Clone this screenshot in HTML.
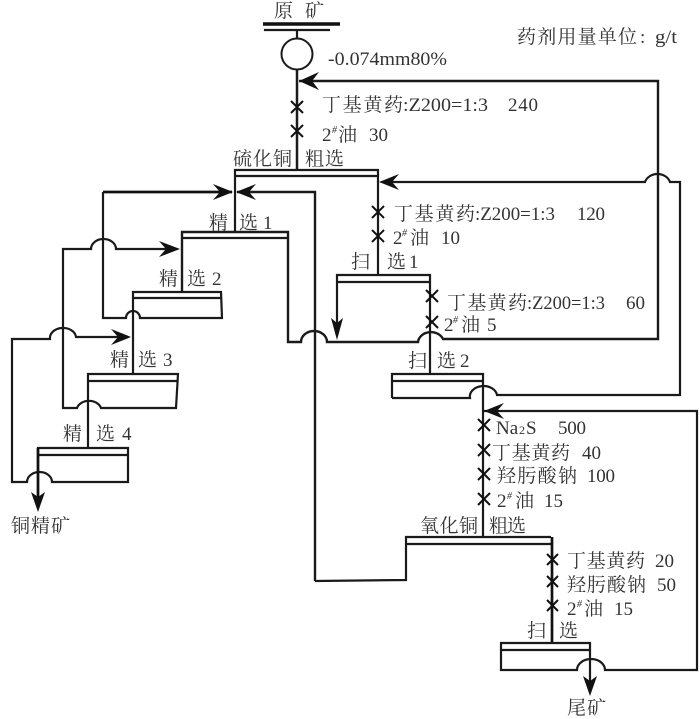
<!DOCTYPE html>
<html><head><meta charset="utf-8"><style>
html,body{margin:0;padding:0;background:#fff}
svg{display:block}
text{font-family:"Liberation Serif","Noto Serif CJK SC",serif;font-size:19px;fill:#333}
.l{fill:none;stroke:#1a1a1a;stroke-width:2.2}
.b{fill:none;stroke:#111;stroke-width:2.700}
.x{fill:none;stroke:#111;stroke-width:2}
.a{fill:#111;stroke:none}
</style></head><body>
<svg width="700" height="719" viewBox="0 0 700 719" xmlns="http://www.w3.org/2000/svg">
<!-- feed -->
<path d="M263 24H340" fill="none" stroke="#111" stroke-width="3.5"/>
<path d="M264 30H330" class="l"/>
<path d="M297 30V39" class="l"/>
<circle cx="297" cy="54" r="15.5" fill="#fff" stroke="#1a1a1a" stroke-width="2"/>
<path d="M297 69V170" class="l" style="stroke-width:2.500"/>
<!-- recycle to head -->
<path d="M299 81H658V339H443A13 11 0 0 0 418 342H327A13 11 0 0 0 301 342H288V232H182V292" class="l" style="stroke-width:2.400"/>
<path d="M299 81L319 72L312 81L319 90Z" class="a"/>
<!-- Cu rougher -->
<path d="M235 232V170H378V276" class="l"/>
<path d="M235 176H378" class="l"/>
<!-- arrows into 235,192 -->
<path d="M315 581V192H237" class="l" style="stroke-width:2.400"/>
<path d="M236 192L256 184L249 192L256 200Z" class="a"/>
<path d="M103 192H232" class="b"/>
<path d="M233 192L213 184L220 192L213 200Z" class="a"/>
<!-- cleaner 1 -->
<path d="M182 238H288" class="l"/>
<!-- cleaner 2 -->
<path d="M133 374V292H221L222 318H140A7 7 0 0 0 126 318H103V192" class="l"/>
<path d="M133 298H221" class="l"/>
<!-- cleaner 3 -->
<path d="M88 448V374H178L176 408H101A12.500 10 0 0 0 77 408H63V249H91A12.500 10 0 0 1 116 249H176" class="l"/>
<path d="M88 381H178" class="l"/>
<path d="M180 249L159 241L166 249L159 257Z" class="a"/>
<!-- cleaner 4 -->
<path d="M38 505V448H128V482H52A12.500 10 0 0 0 27 482H12V339H50A13 10 0 0 1 76 337H128" class="l"/>
<path d="M38 455H128" class="l"/>
<path d="M131 337L111 329L118 337L111 345Z" class="a"/>
<path d="M38 512L31 492L38 497L45 492Z" class="a"/>
<path d="M38 448V498" class="b"/>
<!-- scavenger 1 -->
<path d="M337 330V275H430V374" class="l"/>
<path d="M337 282H430" class="l"/>
<path d="M337 340L331 318L337 323L343 318Z" class="a"/>
<!-- scavenger 2 -->
<path d="M392 398V374H483V537" class="l"/>
<path d="M392 381H483" class="l"/>
<path d="M392 398H470A13 10 0 0 1 497 395H680V182H670A13 11 0 0 0 645 182H385" class="l"/>
<path d="M379 182L399 174L392 182L399 190Z" class="a"/>
<!-- oxide rougher -->
<path d="M315 581L406 580V537H551" class="l"/>
<path d="M406 544H551" class="l"/>
<path d="M552 537V643" class="b"/>
<path d="M484 411H697V670H605A14 11 0 0 0 577 670H501V643H590V688" class="l"/>
<path d="M501 650H590" class="l"/>
<path d="M484 411L504 403L497 411L504 419Z" class="a"/>
<path d="M590 696L583 676L590 681L597 676Z" class="a"/>
<!-- crosses -->
<path class="x" d="M291 101l12 12m0-12l-12 12M291 125l12 12m0-12l-12 12M372 206l12 12m0-12l-12 12M372 230l12 12m0-12l-12 12M426 290l12 12m0-12l-12 12M426 316l12 12m0-12l-12 12M478 419l12 12m0-12l-12 12M478 444l12 12m0-12l-12 12M478 468l12 12m0-12l-12 12M478 493l12 12m0-12l-12 12M547 554l11 11m0-11l-11 11M547 576l11 11m0-11l-11 11M547 600l11 11m0-11l-11 11"/>
<!-- labels -->
<text x="274" y="17">原</text><text x="305" y="17">矿</text>
<text x="328" y="65" textLength="119" lengthAdjust="spacingAndGlyphs">-0.074mm80%</text>
<text x="517" y="43" textLength="120">药剂用量单位</text><text x="640" y="43">:</text><text x="655" y="43" textLength="22" lengthAdjust="spacingAndGlyphs">g/t</text>
<text x="322" y="111" textLength="81">丁基黄药</text><text x="403" y="111" textLength="85" lengthAdjust="spacingAndGlyphs">:Z200=1:3</text><text x="508" y="111" textLength="30">240</text>
<text x="322" y="141">2</text><text x="332" y="133" font-style="italic" style="font-size:10px">#</text><text x="338" y="141">油</text><text x="369" y="141">30</text>
<text x="233" y="165" textLength="59">硫化铜</text><text x="305" y="165" textLength="39">粗选</text>
<text x="209" y="229">精</text><text x="239" y="229">选</text><text x="263" y="229">1</text>
<text x="159" y="285">精</text><text x="187" y="285">选</text><text x="212" y="285">2</text>
<text x="110" y="366">精</text><text x="138" y="366">选</text><text x="163" y="366">3</text>
<text x="63" y="440">精</text><text x="96" y="440">选</text><text x="122" y="440">4</text>
<text x="11" y="532" textLength="59">铜精矿</text>
<text x="394" y="220" textLength="81">丁基黄药</text><text x="475" y="220" textLength="80" lengthAdjust="spacingAndGlyphs">:Z200=1:3</text><text x="577" y="220" textLength="28">120</text>
<text x="393" y="244">2</text><text x="402" y="236" font-style="italic" style="font-size:10px">#</text><text x="410" y="244">油</text><text x="441" y="244">10</text>
<text x="351" y="268">扫</text><text x="387" y="268">选</text><text x="409" y="268">1</text>
<text x="447" y="309" textLength="80">丁基黄药</text><text x="527" y="309" textLength="78" lengthAdjust="spacingAndGlyphs">:Z200=1:3</text><text x="626" y="309">60</text>
<text x="444" y="331">2</text><text x="453" y="323" font-style="italic" style="font-size:10px">#</text><text x="461" y="331">油</text><text x="487" y="331">5</text>
<text x="408" y="367">扫</text><text x="437" y="367">选</text><text x="460" y="367">2</text>
<text x="496" y="434">Na</text><text x="519" y="434" style="font-size:12px">2</text><text x="526" y="434" textLength="11">S</text><text x="558" y="434" textLength="28">500</text>
<text x="492" y="459" textLength="78">丁基黄药</text><text x="582" y="459">40</text>
<text x="497" y="482" textLength="80">羟肟酸钠</text><text x="587" y="482" textLength="28">100</text>
<text x="497" y="507">2</text><text x="507" y="499" font-style="italic" style="font-size:10px">#</text><text x="515" y="507">油</text><text x="544" y="507">15</text>
<text x="420" y="532" textLength="58">氧化铜</text><text x="489" y="532" textLength="37">粗选</text>
<text x="567" y="567" textLength="78">丁基黄药</text><text x="655" y="567">20</text>
<text x="567" y="591" textLength="79">羟肟酸钠</text><text x="657" y="591">50</text>
<text x="567" y="615">2</text><text x="577" y="607" font-style="italic" style="font-size:10px">#</text><text x="584" y="615">油</text><text x="614" y="615">15</text>
<text x="527" y="637">扫</text><text x="559" y="637">选</text>
<text x="567" y="714" textLength="39">尾矿</text>
</svg>
</body></html>
